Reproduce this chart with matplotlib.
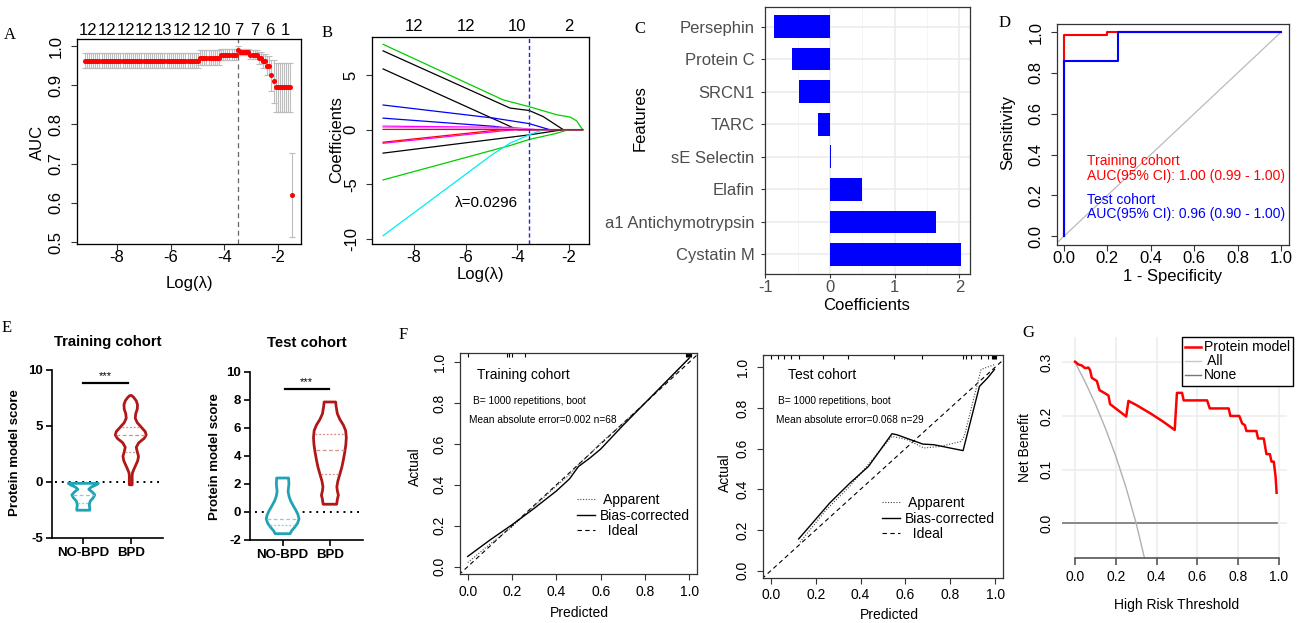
import numpy as np
import matplotlib.pyplot as plt
from matplotlib.lines import Line2D

plt.rcParams['font.family'] = ['Liberation Sans', 'DejaVu Sans']
plt.rcParams['axes.unicode_minus'] = False

# ---------------- data ----------------
# A: cross-validated AUC along the lambda path (glmnet, 100 lambdas)
lam_first, lam_last, n_lam = -9.2, -1.47, 100
auc_levels = [0.963, 0.970, 0.978, 0.990, 0.985, 0.978, 0.970, 0.963, 0.950, 0.925, 0.910, 0.895, 0.620]
auc_counts = [55, 10, 8, 1, 5, 4, 2, 2, 2, 1, 1, 8, 1]
auc_halfci = [0.019, 0.019, 0.014, 0.010, 0.008, 0.011, 0.015, 0.018, 0.025, 0.040, 0.055, 0.063, 0.106]
top_a_pos = [-9.08, -8.37, -7.67, -7.0, -6.29, -5.58, -4.84, -4.10, -3.46, -2.87, -2.31, -1.75]
top_a_lab = ['12', '12', '12', '12', '13', '12', '12', '10', '7', '7', '6', '1']
lam_best = -3.5

# B: lasso coefficient paths
path_x = [
    [-9.2, -7.0, -4.55, -3.54, -2.46, -1.95, -1.7, -1.47],
    [-9.2, -4.28, -3.54, -3.0, -2.22, -1.47],
    [-9.2, -4.0, -1.47],
    [-9.2, -4.9, -3.54, -2.75, -1.47],
    [-9.2, -4.9, -4.0, -1.47],
    [-9.2, -4.2, -3.3, -1.47],
    [-9.2, -4.0, -3.2, -1.47],
    [-9.2, -4.5, -4.0, -1.47],
    [-9.2, -3.54, -2.2, -1.47],
    [-9.2, -4.2, -3.54, -2.5, -2.0, -1.47],
    [-9.2, -4.98, -4.28, -3.54, -3.0, -1.47],
    [-9.2, -4.6, -1.47],
    [-9.2, -1.47],
]
path_y = [
    [7.8, 5.4, 2.72, 2.1, 1.35, 1.15, 0.8, 0.0],
    [7.2, 1.97, 1.75, 1.2, 0.0, 0.0],
    [5.55, 0.0, 0.0],
    [2.25, 1.05, 0.55, 0.0, 0.0],
    [1.05, 0.3, 0.0, 0.0],
    [0.32, 0.2, 0.0, 0.0],
    [0.2, 0.1, 0.0, 0.0],
    [-1.25, -0.1, 0.0, 0.0],
    [-2.15, -0.48, 0.0, 0.0],
    [-4.6, -1.4, -0.9, -0.35, 0.0, 0.0],
    [-9.7, -2.3, -1.24, -0.48, 0.0, 0.0],
    [-1.15, 0.0, 0.0],
    [0.02, 0.0],
]
path_colors = ['#00CD00', 'black', 'black', '#0000FF', '#0000FF', '#FF00FF', '#EE82EE',
               '#FF00FF', 'black', '#00CD00', '#00EEEE', '#FF0000', '#FF0000']
top_b_pos = [-8, -6, -4, -2]
top_b_lab = ['12', '12', '10', '2']
lam_sel = -3.54

# C: selected features
features = ['Persephin', 'Protein C', 'SRCN1', 'TARC', 'sE Selectin', 'Elafin',
            'a1 Antichymotrypsin', 'Cystatin M']
feat_coef = [-0.86, -0.58, -0.48, -0.19, 0.012, 0.49, 1.64, 2.02]

# D: ROC curves
fpr_tr = [0, 0, 0.2, 0.2, 1.0]
tpr_tr = [0, 0.985, 0.985, 1.0, 1.0]
fpr_te = [0, 0, 0.25, 0.25, 1.0]
tpr_te = [0, 0.857, 0.857, 1.0, 1.0]

# E: violin outlines (score, half width in group units) and quartiles
tr_no_v = [-0.12, -0.25, -0.45, -0.65, -0.9, -1.15, -1.4, -1.7, -2.0, -2.35, -2.52]
tr_no_w = [0.316, 0.274, 0.168, 0.116, 0.189, 0.242, 0.211, 0.147, 0.126, 0.137, 0.137]
tr_no_q = [-1.13, -1.84]
tr_bpd_v = [7.72, 7.55, 7.25, 6.9, 6.5, 6.1, 5.7, 5.3, 4.9, 4.5, 4.2, 3.9, 3.5, 3.1, 2.7,
            2.3, 1.9, 1.5, 1.1, 0.8, 0.5, -0.25]
tr_bpd_w = [0.02, 0.063, 0.116, 0.143, 0.137, 0.105, 0.095, 0.137, 0.221, 0.305, 0.326,
            0.284, 0.168, 0.116, 0.137, 0.164, 0.147, 0.105, 0.063, 0.035, 0.03, 0.03]
tr_bpd_q = [4.95, 4.17, 2.72]
te_no_v = [2.42, 2.0, 1.45, 1.1, 0.8, 0.4, 0.1, -0.2, -0.5, -0.8, -1.1, -1.35, -1.55]
te_no_w = [0.126, 0.133, 0.116, 0.137, 0.168, 0.232, 0.284, 0.326, 0.347, 0.316, 0.253, 0.189, 0.158]
te_no_q = [-0.52, -0.9]
te_bpd_v = [7.84, 7.5, 7.0, 6.6, 6.2, 5.8, 5.3, 4.8, 4.3, 3.7, 3.2, 2.7, 2.2, 1.8, 1.5,
            1.2, 0.9, 0.55]
te_bpd_w = [0.122, 0.133, 0.158, 0.211, 0.284, 0.333, 0.347, 0.337, 0.316, 0.284, 0.253,
            0.211, 0.168, 0.147, 0.158, 0.179, 0.158, 0.143]
te_bpd_q = [5.59, 4.45, 2.69]
groups = ['NO-BPD', 'BPD']

# F: calibration curves
cal_tr_x = [0.0, 0.1, 0.2, 0.3, 0.4, 0.46, 0.5, 0.55, 0.6, 0.7, 0.8, 0.9, 1.0]
cal_tr_bias = [0.05, 0.13, 0.205, 0.285, 0.37, 0.43, 0.49, 0.53, 0.575, 0.69, 0.8, 0.91, 1.02]
cal_tr_app = [0.02, 0.11, 0.195, 0.295, 0.395, 0.45, 0.5, 0.55, 0.605, 0.7, 0.8, 0.905, 1.02]
rug_tr = [0.0, 0.175, 0.187, 0.2, 0.258, 0.986, 0.99, 0.994, 0.998, 1.002, 1.006]
cal_te_x = [0.124, 0.172, 0.262, 0.352, 0.435, 0.54, 0.562, 0.678, 0.727, 0.857, 0.93, 0.967, 0.997]
cal_te_bias = [0.156, 0.217, 0.332, 0.43, 0.512, 0.673, 0.668, 0.622, 0.619, 0.59, 0.906, 0.948, 0.989]
cal_te_app_x = [0.13, 0.247, 0.352, 0.54, 0.607, 0.682, 0.757, 0.847, 0.862, 0.937, 0.997]
cal_te_app = [0.14, 0.299, 0.415, 0.66, 0.644, 0.603, 0.611, 0.635, 0.66, 0.989, 1.013]
rug_te = [0.0, 0.03, 0.06, 0.09, 0.127, 0.232, 0.345, 0.547, 0.675, 0.855, 0.87, 0.893,
          0.938, 0.968, 0.986, 0.99, 0.994, 0.998, 1.002]

# G: decision curve
dca_t = [0, 0.016, 0.033, 0.049, 0.066, 0.074, 0.082, 0.107, 0.12, 0.148, 0.164, 0.172,
         0.251, 0.262, 0.3, 0.369, 0.43, 0.489, 0.5, 0.525, 0.533, 0.648, 0.661, 0.754,
         0.762, 0.806, 0.82, 0.833, 0.841, 0.89, 0.898, 0.926, 0.939, 0.956, 0.964, 0.975,
         0.984, 0.989]
dca_model = [0.301, 0.296, 0.294, 0.289, 0.290, 0.285, 0.271, 0.265, 0.248, 0.242, 0.238,
             0.222, 0.199, 0.228, 0.2205, 0.205, 0.19, 0.174, 0.243, 0.243, 0.229, 0.229,
             0.214, 0.214, 0.2, 0.2, 0.186, 0.183, 0.172, 0.172, 0.158, 0.158, 0.129, 0.129,
             0.115, 0.115, 0.087, 0.057]
all_t = [0, 0.05, 0.1, 0.15, 0.2, 0.25, 0.3, 0.341]
all_nb = [0.3, 0.263, 0.222, 0.176, 0.125, 0.067, 0.0, -0.065]

# ---------------- figure ----------------
W, H = 1300, 623
fig = plt.figure(figsize=(13, 6.23), dpi=100)


def px_axes(x0, x1, y0, y1):
    return fig.add_axes([x0 / W, 1 - y1 / H, (x1 - x0) / W, (y1 - y0) / H])


def ftext(x, y, s, size, rot=0, **kw):
    fig.text(x / W, 1 - y / H, s, fontsize=size, rotation=rot, ha='center', va='center', **kw)


def r_axes(ax, size, xpad=0.5, ypad=5.5):
    for s in ax.spines.values():
        s.set_color('#333333')
        s.set_linewidth(0.9)
    ax.tick_params(length=4, width=0.8, color='#333333', labelsize=size)
    ax.tick_params(axis='x', pad=xpad)
    ax.tick_params(axis='y', pad=ypad)


def yticks_rot(ax, ticks, fmt):
    ax.set_yticks(ticks, [fmt.format(t) for t in ticks], rotation=90, va='center')


# ---- A ----
axA = px_axes(77, 301, 39, 244)
r_axes(axA, 12)
lam_a = np.linspace(lam_first, lam_last, n_lam)
auc_a = np.repeat(auc_levels, auc_counts)
ci_a = np.repeat(auc_halfci, auc_counts)
axA.errorbar(lam_a, auc_a, yerr=ci_a, fmt='o', ms=2.6, color='red', ecolor='#BDBDBD',
             elinewidth=0.8, capsize=2, capthick=0.8, zorder=3)
axA.axvline(lam_best, color='#666666', ls=(0, (4, 3)), lw=0.9)
axA.set_xlim(-9.49, -1.15)
axA.set_ylim(0.495, 1.018)
axA.set_xticks([-8, -6, -4, -2])
yticks_rot(axA, [0.5, 0.6, 0.7, 0.8, 0.9, 1.0], '{:.1f}')
topA = axA.twiny()
topA.set_xlim(axA.get_xlim())
topA.set_xticks(top_a_pos, top_a_lab)
topA.tick_params(length=0, labelsize=12, pad=1)
ftext(189, 283, 'Log(λ)', 12)
ftext(37, 142, 'AUC', 12, 90)

# ---- B ----
axB = px_axes(372, 589, 37, 244)
r_axes(axB, 12)
for xs, ys, c in zip(path_x, path_y, path_colors):
    axB.plot(xs, ys, color=c, lw=0.9)
axB.axvline(lam_sel, color='#2222DD', ls=(0, (3, 2)), lw=1.0)
axB.text(-5.2, -6.7, 'λ=0.0296', fontsize=11, ha='center', va='center')
axB.set_xlim(-9.63, -1.22)
axB.set_ylim(-10.46, 8.47)
axB.set_xticks([-8, -6, -4, -2])
yticks_rot(axB, [-10, -5, 0, 5], '{:d}')
topB = axB.twiny()
topB.set_xlim(axB.get_xlim())
topB.set_xticks(top_b_pos, top_b_lab)
topB.tick_params(length=0, labelsize=12, pad=2.5)
ftext(480, 275, 'Log(λ)', 12)
ftext(337, 140, 'Coefficients', 12, 90)

# ---- C ----
axC = px_axes(765, 970, 7, 274)
ypos = np.arange(len(features))[::-1]
axC.set_axisbelow(True)
axC.barh(ypos, feat_coef, height=0.7, color='#0000FF')
axC.set_xlim(-1.004, 2.164)
axC.set_ylim(-0.6, len(features) - 0.4)
axC.set_yticks(ypos, features)
axC.set_xticks([-1, 0, 1, 2])
axC.set_xticks([-0.5, 0.5, 1.5], minor=True)
axC.grid(which='major', color='#EBEBEB', lw=1.1)
axC.grid(which='minor', axis='x', color='#F4F4F4', lw=0.6)
axC.tick_params(which='major', length=3, width=0.8, color='#333333', labelsize=12,
                labelcolor='#4D4D4D')
axC.tick_params(axis='y', pad=4.5)
axC.tick_params(axis='x', pad=1)
axC.tick_params(which='minor', length=0)
for s in axC.spines.values():
    s.set_color('#333333')
    s.set_linewidth(0.9)
ftext(867, 305, 'Coefficients', 12)
ftext(640, 118, 'Features', 12, 90)

# ---- D ----
axD = px_axes(1057, 1289, 24, 245)
r_axes(axD, 12)
axD.plot([-0.04, 1.0], [-0.04, 1.0], color='#BBBBBB', lw=0.9)
axD.plot(fpr_tr, tpr_tr, color='red', lw=1.5)
axD.plot(fpr_te, tpr_te, color='blue', lw=1.5)
axD.set_xlim(-0.032, 1.037)
axD.set_ylim(-0.043, 1.04)
axD.set_xticks(np.arange(0, 1.01, 0.2), ['{:.1f}'.format(t) for t in np.arange(0, 1.01, 0.2)])
yticks_rot(axD, list(np.arange(0, 1.01, 0.2)), '{:.1f}')
axD.text(0.105, 0.369, 'Training cohort', color='red', fontsize=10, va='center')
axD.text(0.105, 0.297, 'AUC(95% CI): 1.00 (0.99 - 1.00)', color='red', fontsize=10, va='center')
axD.text(0.105, 0.178, 'Test cohort', color='blue', fontsize=10, va='center')
axD.text(0.105, 0.108, 'AUC(95% CI): 0.96 (0.90 - 1.00)', color='blue', fontsize=10, va='center')
ftext(1008, 133, 'Sensitivity', 12, 90)
ftext(1173, 276, '1 - Specificity', 12)

# ---- E ----
teal, dred = '#1FA3B5', '#B01818'
teal_q, dred_q = '#86CFDA', '#D98A8A'


def violin(ax, c, vals, half, color, qcolor, quarts):
    v = np.asarray(vals)
    h = np.asarray(half)
    ax.fill(np.r_[c - h, (c + h)[::-1]], np.r_[v, v[::-1]], facecolor='white',
            edgecolor=color, lw=2.0, joinstyle='round', zorder=3)
    order = np.argsort(v)
    styles = [(0, (1.5, 1.5)), (0, (3, 2)), (0, (1.5, 1.5))]
    if len(quarts) == 2:
        styles = [(0, (3, 2)), (0, (1.5, 1.5))]
    for q, ls in zip(quarts, styles):
        w = np.interp(q, v[order], h[order]) - 0.02
        ax.plot([c - w, c + w], [q, q], color=qcolor, ls=ls, lw=0.9, zorder=4)


def prism_axes(ax, yt):
    for s in ['top', 'right']:
        ax.spines[s].set_visible(False)
    for s in ['left', 'bottom']:
        ax.spines[s].set_linewidth(1.2)
    ax.tick_params(length=4, width=1.2, labelsize=9.5, pad=2.5)
    ax.set_yticks(yt)
    ax.set_xticks([1, 2], groups)
    for lab in ax.get_xticklabels() + ax.get_yticklabels():
        lab.set_fontweight('bold')


axE1 = px_axes(52, 163, 370, 538)
prism_axes(axE1, [-5, 0, 5, 10])
axE1.set_xlim(0.34, 2.68)
axE1.set_ylim(-5, 10)
axE1.axhline(0, xmin=0.03, xmax=1, color='black', ls=(0, (1, 2.5)), lw=1.4, zorder=2)
violin(axE1, 1, tr_no_v, tr_no_w, teal, teal_q, tr_no_q)
violin(axE1, 2, tr_bpd_v, tr_bpd_w, dred, dred_q, tr_bpd_q)
axE1.plot([0.99, 1.95], [8.87, 8.87], color='black', lw=1.6, clip_on=False)
axE1.text(1.47, 9.45, '***', fontsize=8, ha='center', va='center')
ftext(108, 342, 'Training cohort', 10.7, weight='bold')
ftext(15, 453, 'Protein model score', 9.5, 90, weight='bold')

axE2 = px_axes(250, 363, 371.7, 540)
prism_axes(axE2, [-2, 0, 2, 4, 6, 8, 10])
axE2.set_xlim(0.31, 2.70)
axE2.set_ylim(-2, 10)
axE2.axhline(0, xmin=0.04, xmax=1, color='black', ls=(0, (1, 2.5)), lw=1.4, zorder=2)
violin(axE2, 1, te_no_v, te_no_w, teal, teal_q, te_no_q)
violin(axE2, 2, te_bpd_v, te_bpd_w, dred, dred_q, te_bpd_q)
axE2.plot([1.05, 1.98], [8.8, 8.8], color='black', lw=1.6, clip_on=False)
axE2.text(1.5, 9.25, '***', fontsize=8, ha='center', va='center')
ftext(307, 343, 'Test cohort', 10.7, weight='bold')
ftext(215, 457, 'Protein model score', 9.5, 90, weight='bold')

# ---- F ----
leg_handles = [Line2D([], [], color='#444444', ls=(0, (1, 1.5)), lw=0.8),
               Line2D([], [], color='black', lw=1.0),
               Line2D([], [], color='black', ls=(0, (4, 3)), lw=0.8)]
leg_labels = [' Apparent', 'Bias-corrected', '  Ideal']


def calib(ax, x, bias, app_x, app, rug, ytop, title, mae, n, txt, leg_xy):
    r_axes(ax, 10, xpad=4, ypad=5.5)
    ax.plot([-0.04, 1.07], [-0.04, 1.07], color='black', ls=(0, (4, 3)), lw=0.8)
    ax.plot(app_x, app, color='#444444', ls=(0, (1, 1.5)), lw=0.8)
    ax.plot(x, bias, color='black', lw=1.0)
    ax.vlines(rug, ytop - 0.022, ytop, color='black', lw=0.8)
    ax.set_xlim(-0.035, 1.035)
    ax.set_ylim(-0.036, ytop)
    ticks = [0, 0.2, 0.4, 0.6, 0.8, 1.0]
    ax.set_xticks(ticks, ['{:.1f}'.format(t) for t in ticks])
    yticks_rot(ax, ticks, '{:.1f}')
    ax.text(txt[0], txt[1], title, fontsize=10, va='center')
    ax.text(txt[2], txt[3], 'B= 1000 repetitions, boot', fontsize=7.3, va='center')
    ax.text(txt[4], txt[5], 'Mean absolute error={} n={}'.format(mae, n), fontsize=7.3,
            va='center')
    ax.legend(leg_handles, leg_labels, loc='upper left', bbox_to_anchor=leg_xy,
              bbox_transform=fig.transFigure, frameon=False, fontsize=10, borderpad=0,
              borderaxespad=0, handlelength=1.3, handletextpad=0.35, labelspacing=0.12)


axF1 = px_axes(460, 697, 353, 574)
calib(axF1, cal_tr_x, cal_tr_bias, cal_tr_x, cal_tr_app, rug_tr, 1.045, 'Training cohort',
      '0.002', 68, (0.043, 0.935, 0.025, 0.812, 0.007, 0.718), (577 / W, 1 - 493 / H))
ftext(415, 467, 'Actual', 10, 90)
ftext(579, 613, 'Predicted', 10)

axF2 = px_axes(763, 1003, 355, 578)
calib(axF2, cal_te_x, cal_te_bias, cal_te_app_x, cal_te_app, rug_te, 1.06, 'Test cohort',
      '0.068', 29, (0.075, 0.964, 0.034, 0.833, 0.025, 0.742), (882 / W, 1 - 496 / H))
axF2.tick_params(axis='x', pad=3)
ftext(725, 473, 'Actual', 10, 90)
ftext(889, 615, 'Predicted', 10)

# ---- G ----
axG = px_axes(1062, 1287, 337, 558.3)
axG.set_xlim(-0.064, 1.04)
axG.set_ylim(-0.065, 0.347)
for t in np.arange(0, 1.01, 0.2):
    axG.axvline(t, color='#EEEEEE', lw=1.2, zorder=0)
for t in [0, 0.1, 0.2, 0.3]:
    axG.axhline(t, color='#EEEEEE', lw=1.2, zorder=0)
axG.plot([-0.064, 0.99], [0, 0], color='#777777', lw=1.2)
axG.plot(all_t, all_nb, color='#B0B0B0', lw=1.0)
axG.plot(dca_t, dca_model, color='red', lw=1.8)
for s in ['top', 'right', 'left']:
    axG.spines[s].set_visible(False)
axG.spines['bottom'].set_bounds(0, 1)
axG.spines['bottom'].set_color('#555555')
axG.spines['bottom'].set_linewidth(1.2)
gt = [0, 0.2, 0.4, 0.6, 0.8, 1.0]
axG.set_xticks(gt, ['{:.1f}'.format(t) for t in gt])
yticks_rot(axG, [0, 0.1, 0.2, 0.3], '{:.1f}')
axG.tick_params(axis='x', length=5, width=1.2, color='#555555', labelsize=10, pad=3.5)
axG.tick_params(axis='y', length=0, labelsize=10, pad=6)
axG.legend([Line2D([], [], color='red', lw=1.8), Line2D([], [], color='#C8C8C8', lw=1.0),
            Line2D([], [], color='#777777', lw=1.0)],
           ['Protein model', ' All', 'None'], loc='upper left',
           bbox_to_anchor=(1182 / W, 1 - 337 / H), bbox_transform=fig.transFigure,
           fontsize=10, fancybox=False, edgecolor='black', framealpha=1, borderpad=0.25,
           borderaxespad=0, handlelength=1.1, handletextpad=0.2, labelspacing=0.0)
ftext(1025, 447, 'Net Benefit', 10, 90)
ftext(1177, 605, 'High Risk Threshold', 10)

# ---- panel letters ----
for lab, x, y in [('A', 10, 35), ('B', 327, 33), ('C', 640, 29), ('D', 1005, 23),
                  ('E', 7, 328), ('F', 403, 335), ('G', 1028, 333)]:
    ftext(x, y, lab, 12, family='Liberation Serif')

fig.savefig('out.png', dpi=100)
